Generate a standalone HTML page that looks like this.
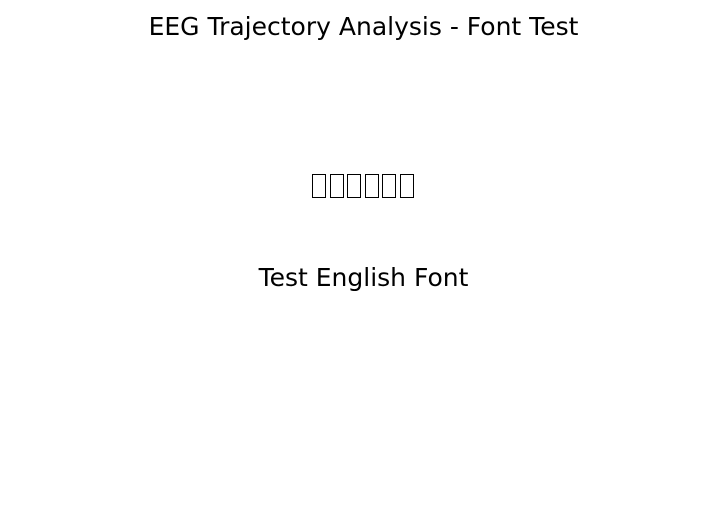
<!DOCTYPE html>
<html><head><meta charset="utf-8"><style>
html,body{margin:0;padding:0;background:#fff;}
body{width:727px;height:523px;position:relative;overflow:hidden;font-family:"DejaVu Sans","Liberation Sans",sans-serif;color:#000;}
.t{position:absolute;left:0;width:727px;text-align:center;white-space:nowrap;line-height:29px;}
.boxes{position:absolute;left:312px;top:174px;height:24px;}
.boxes span{position:absolute;top:0;width:12px;height:22px;border:1.5px solid #000;}
.hid{position:absolute;left:312px;top:172px;font-size:20px;color:transparent;font-family:"Noto Sans CJK SC",sans-serif;}
</style></head><body>
<div class="t" style="top:12px;font-size:25px;">EEG Trajectory Analysis - Font Test</div>
<div class="hid">中文字体测试</div>
<div class="boxes">
<span style="left:0px"></span><span style="left:17.5px"></span><span style="left:35px"></span><span style="left:52.5px"></span><span style="left:70px"></span><span style="left:87.5px"></span>
</div>
<div class="t" style="top:263px;font-size:25px;">Test English Font</div>
</body></html>
